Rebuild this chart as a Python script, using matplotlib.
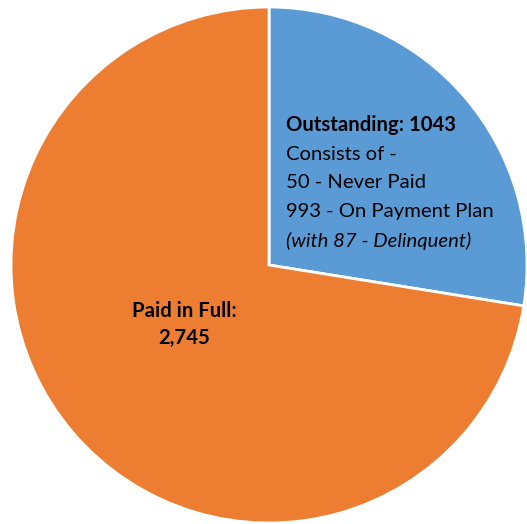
import matplotlib
matplotlib.use("Agg")
import matplotlib.pyplot as plt

# values
categories = ["Outstanding", "Paid in Full"]
counts = [1043, 2745]
colors = ["#5B9BD5", "#ED7D31"]

W, H = 527, 524
fig = plt.figure(figsize=(W / 100, H / 100), dpi=100)
fig.patch.set_facecolor("white")

# pie centre ~(269, 265) px, radius ~258 px
cx, cy, r = 269, 265, 258
ax = fig.add_axes([(cx - r) / W, (H - cy - r) / H, 2 * r / W, 2 * r / H])
ax.pie(counts, colors=colors, startangle=90, counterclock=False,
       wedgeprops=dict(edgecolor="white", linewidth=2))
ax.set_xlim(-1, 1)
ax.set_ylim(-1, 1)
ax.set_aspect("auto")
ax.axis("off")

FONT = "Lato"
FS = 14.6


def px(x, y):
    return x / W, 1 - y / H


lines = [
    (f"{categories[0]}: {counts[0]}", "bold", "normal"),
    ("Consists of -", "normal", "normal"),
    ("50 - Never Paid", "normal", "normal"),
    ("993 - On Payment Plan", "normal", "normal"),
    ("(with 87 - Delinquent)", "normal", "italic"),
]
for i, (txt, w, st) in enumerate(lines):
    fig.text(*px(286, 125 + i * 29), txt, fontsize=FS, fontweight=w,
             fontstyle=st, family=FONT, color="black", va="center", ha="left")

fig.text(*px(184, 311), f"{categories[1]}:", fontsize=FS, fontweight="bold",
         family=FONT, ha="center", va="center")
fig.text(*px(184, 338), f"{counts[1]:,}", fontsize=FS, fontweight="bold",
         family=FONT, ha="center", va="center")

fig.savefig("out.png", dpi=100, facecolor="white")
